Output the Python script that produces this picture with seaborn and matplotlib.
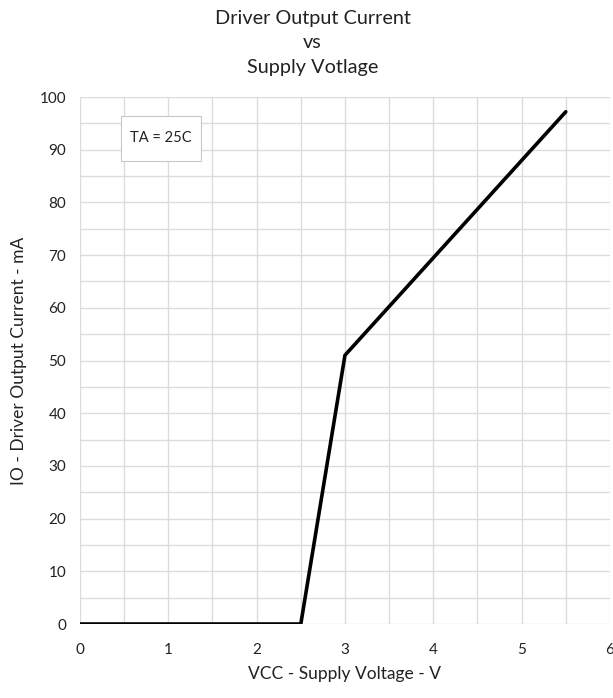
import numpy as np
import pandas as pd
import matplotlib
matplotlib.use("Agg")
import matplotlib.pyplot as plt
import seaborn as sns
from matplotlib.ticker import MultipleLocator
from matplotlib.patches import Rectangle

# Donnees
vcc = [0.0, 2.5, 3.0, 5.5]
io_ma = [0.0, 0.0, 51.0, 97.2]

data = pd.DataFrame({"VCC": vcc, "IO": io_ma})

sns.set_style("white")
plt.rcParams["font.family"] = ["Lato", "DejaVu Sans"]

fig = plt.figure(figsize=(6.13, 6.98), dpi=100)
ax = fig.add_axes([0.1305, 0.106, 0.8645, 0.755])

sns.lineplot(x="VCC", y="IO", data=data, ax=ax, color="black", linewidth=2.6,
             sort=False, zorder=3)

ax.set_xlim(0, 6)
ax.set_ylim(0, 100)
ax.xaxis.set_major_locator(MultipleLocator(1))
ax.xaxis.set_minor_locator(MultipleLocator(0.5))
ax.yaxis.set_major_locator(MultipleLocator(10))
ax.yaxis.set_minor_locator(MultipleLocator(5))
ax.grid(which="both", color="#dcdcdc", linewidth=1.0)
for s in ax.spines.values():
    s.set_visible(False)
ax.tick_params(which="major", length=6, width=0.8, color="#dcdcdc", labelsize=11, labelcolor="#222222")
ax.tick_params(which="minor", length=3, width=0.8, color="#dcdcdc")
ax.tick_params(axis="x", which="major", pad=8)
ax.tick_params(axis="y", which="major", pad=4)

ax.set_xlabel("VCC - Supply Voltage - V", fontsize=12.5, color="#222222", labelpad=6)
ax.set_ylabel("IO - Driver Output Current - mA", fontsize=12.5, color="#222222", labelpad=9)

fig.text(0.51, 0.986, "Driver Output Current\nvs\nSupply Votlage", ha="center", va="top",
         fontsize=14.3, color="#222222", linespacing=1.55)

# cadre de l'annotation
ax.add_patch(Rectangle((0.464, 87.9), 0.906, 8.5, facecolor="white", edgecolor="#c8c8c8",
                       linewidth=0.8, zorder=4))
ax.text(0.917, 92.15, "TA = 25C", fontsize=10.5, color="#222222", ha="center", va="center",
        zorder=5)

fig.savefig("out.png", dpi=100)
